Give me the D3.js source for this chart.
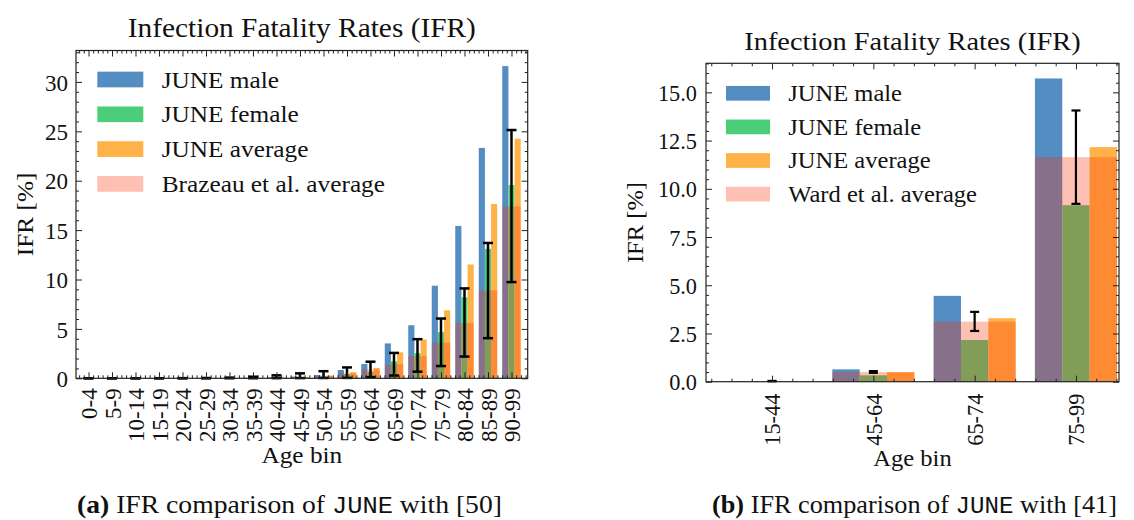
<!DOCTYPE html>
<html>
<head>
<meta charset="utf-8">
<script src="https://cdn.jsdelivr.net/npm/d3@7"></script>
<style>
  body { margin: 0; background: #fff; }
  svg { display: block; }
</style>
</head>
<body>
<svg id="fig" width="1134" height="520"></svg>
<script>
// ---- Panel (a): JUNE vs Brazeau et al., IFR in % by five-year age bin ----
const binsA = ["0-4","5-9","10-14","15-19","20-24","25-29","30-34","35-39","40-44","45-49",
               "50-54","55-59","60-64","65-69","70-74","75-79","80-84","85-89","90-99"];
const maleA    = [0.002,0.001,0.002,0.004,0.008,0.015,0.03,0.05,0.09,0.18,0.33,0.84,1.44,3.53,5.37,9.37,15.42,23.32,31.6];
const femaleA  = [0.001,0.001,0.001,0.002,0.004,0.007,0.013,0.025,0.045,0.09,0.17,0.42,0.65,1.72,2.55,4.67,8.2,13.1,19.56];
const averageA = [0.002,0.001,0.002,0.003,0.006,0.011,0.022,0.04,0.07,0.13,0.26,0.62,1.05,2.63,3.92,6.88,11.52,17.64,24.25];
const brazeauA     = [0.001,0.001,0.001,0.002,0.004,0.008,0.015,0.03,0.06,0.12,0.25,0.5,0.9,1.41,2.25,3.6,5.6,8.9,17.4];
const brazeauLowA  = [0,0,0,0,0.001,0.002,0.004,0.007,0.012,0.02,0.03,0.04,0.12,0.28,0.67,1.24,2.2,4.06,9.74];
const brazeauHighA = [0.003,0.003,0.005,0.008,0.015,0.03,0.07,0.16,0.3,0.5,0.72,1.1,1.68,2.57,3.96,6.05,9.1,13.7,25.13];
const legendA = ["JUNE male","JUNE female","JUNE average","Brazeau et al. average"];
const yTicksA = [0,5,10,15,20,25,30];

// ---- Panel (b): JUNE vs Ward et al., IFR in % by broad age band ----
const binsB = ["15-44","45-64","65-74","75-99"];
const maleB    = [0.02,0.64,4.45,15.72];
const femaleB  = [0.01,0.33,2.16,9.15];
const averageB = [0.015,0.49,3.29,12.16];
const wardB     = [0.03,0.5,3.11,11.64];
const wardLowB  = [0.02,0.46,2.63,9.22];
const wardHighB = [0.04,0.55,3.62,14.06];
const legendB = ["JUNE male","JUNE female","JUNE average","Ward et al. average"];
const yTicksB = [0,2.5,5,7.5,10,12.5,15];

const titleText = "Infection Fatality Rates (IFR)";

// ---- styling ----
const SERIF = "'Liberation Serif','Times New Roman',serif";
const MONO = "'Liberation Mono','DejaVu Sans Mono',monospace";
const COLORS = { male: "#538dc2", female: "#4ccd7a", average: "#ffb248", ref: "rgb(255,45,5)" };
const REF_OPACITY = 0.30;
const INK = "#111";
const STRETCH = 1.1;   // widens lettered labels toward Computer Modern proportions

const svg = d3.select("#fig");
svg.append("rect").attr("width", 1134).attr("height", 520).attr("fill", "#fff");

function drawPanel(p) {
  const x = d3.scaleLinear().domain(p.xDomain).range([p.left, p.right]);
  const y = d3.scaleLinear().domain([0, d3.max(p.male) * 1.05]).range([p.bottom, p.top]);
  const g = svg.append("g");
  const idx = d3.range(p.bins.length);
  const bw = x(p.barWidth) - x(0);

  // JUNE bars: male | female | average side by side around each bin
  const series = [
    { v: p.male, c: COLORS.male, k: -1 },
    { v: p.female, c: COLORS.female, k: 0 },
    { v: p.average, c: COLORS.average, k: 1 }
  ];
  series.forEach(s => {
    g.append("g").selectAll("rect").data(idx).join("rect")
      .attr("x", i => x(i + s.k * p.barWidth - p.barWidth / 2))
      .attr("width", bw)
      .attr("y", i => y(s.v[i]))
      .attr("height", i => y(0) - y(s.v[i]))
      .attr("fill", s.c);
  });

  // reference study: translucent bar across the whole group
  g.append("g").selectAll("rect").data(idx).join("rect")
    .attr("x", i => x(i - 1.5 * p.barWidth))
    .attr("width", 3 * bw)
    .attr("y", i => y(p.ref[i]))
    .attr("height", i => y(0) - y(p.ref[i]))
    .attr("fill", COLORS.ref)
    .attr("fill-opacity", REF_OPACITY);

  // reference confidence intervals
  const eg = g.append("g").attr("stroke", "#000").attr("stroke-width", p.errWidth);
  idx.forEach(i => {
    const cx = x(i), ylo = y(p.refLow[i]), yhi = y(p.refHigh[i]);
    eg.append("line").attr("x1", cx).attr("x2", cx).attr("y1", ylo).attr("y2", yhi);
    [ylo, yhi].forEach(yy => eg.append("line")
      .attr("x1", cx - p.cap).attr("x2", cx + p.cap).attr("y1", yy).attr("y2", yy));
  });

  // ---- axes: inward major + minor ticks on all four sides ----
  const fs = p.fontSize;
  const round = v => Math.round(v * 1000) / 1000;
  const xMinor = d3.range(Math.ceil(p.xDomain[0] / 0.2), Math.floor(p.xDomain[1] / 0.2) + 1)
    .map(k => round(k * 0.2)).filter(v => Math.abs(v - Math.round(v)) > 1e-6);
  const yMax = y.domain()[1];
  const yMinor = d3.range(0, Math.floor(yMax / p.yMinorStep) + 1)
    .map(k => round(k * p.yMinorStep)).filter(v => !p.yTicks.includes(v));

  function finish(sel) {
    sel.select(".domain").remove();
    sel.attr("font-family", SERIF).attr("font-size", fs);
    sel.selectAll("line").attr("stroke", "#222").attr("stroke-width", 1);
    sel.selectAll("text").attr("fill", INK).style("font-family", SERIF);
  }
  const blank = () => "";

  const gxb = g.append("g").attr("transform", `translate(0,${p.bottom})`)
    .call(d3.axisBottom(x).tickValues(idx).tickFormat(i => p.bins[i]).tickSizeInner(-6).tickSizeOuter(0));
  finish(gxb);
  gxb.selectAll("text")
    .attr("transform", "rotate(-90)")
    .attr("x", -p.xPad).attr("y", 0).attr("dy", "0.35em")
    .attr("text-anchor", "end");
  finish(g.append("g").attr("transform", `translate(0,${p.bottom})`)
    .call(d3.axisBottom(x).tickValues(xMinor).tickFormat(blank).tickSizeInner(-3).tickSizeOuter(0)));
  finish(g.append("g").attr("transform", `translate(0,${p.top})`)
    .call(d3.axisTop(x).tickValues(idx).tickFormat(blank).tickSizeInner(-6).tickSizeOuter(0)));
  finish(g.append("g").attr("transform", `translate(0,${p.top})`)
    .call(d3.axisTop(x).tickValues(xMinor).tickFormat(blank).tickSizeInner(-3).tickSizeOuter(0)));

  const gyl = g.append("g").attr("transform", `translate(${p.left},0)`)
    .call(d3.axisLeft(y).tickValues(p.yTicks).tickFormat(p.yFormat).tickSizeInner(-6).tickSizeOuter(0).tickPadding(p.yPad));
  finish(gyl);
  gyl.selectAll("text").attr("dy", "0.36em");
  finish(g.append("g").attr("transform", `translate(${p.left},0)`)
    .call(d3.axisLeft(y).tickValues(yMinor).tickFormat(blank).tickSizeInner(-3).tickSizeOuter(0)));
  finish(g.append("g").attr("transform", `translate(${p.right},0)`)
    .call(d3.axisRight(y).tickValues(p.yTicks).tickFormat(blank).tickSizeInner(-6).tickSizeOuter(0)));
  finish(g.append("g").attr("transform", `translate(${p.right},0)`)
    .call(d3.axisRight(y).tickValues(yMinor).tickFormat(blank).tickSizeInner(-3).tickSizeOuter(0)));

  // frame
  g.append("rect")
    .attr("x", p.left).attr("y", p.top)
    .attr("width", p.right - p.left).attr("height", p.bottom - p.top)
    .attr("fill", "none").attr("stroke", "#222").attr("stroke-width", 1.2);

  // title and axis labels
  const cxMid = (p.left + p.right) / 2;
  g.append("text").text(titleText)
    .attr("x", cxMid).attr("y", p.titleY).attr("text-anchor", "middle")
    .attr("font-family", SERIF).attr("font-size", p.titleSize).attr("fill", INK);
  g.append("text").text("Age bin")
    .attr("x", cxMid).attr("y", p.xLabelY).attr("text-anchor", "middle")
    .attr("font-family", SERIF).attr("font-size", fs).attr("fill", INK);
  g.append("text").text("IFR [%]")
    .attr("transform", `translate(${p.yLabelX},${(p.top + p.bottom) / 2}) rotate(-90)`)
    .attr("text-anchor", "middle")
    .attr("font-family", SERIF).attr("font-size", fs).attr("fill", INK);

  // legend
  const lg = g.append("g");
  const swatches = [
    { c: COLORS.male, o: 1 }, { c: COLORS.female, o: 1 },
    { c: COLORS.average, o: 1 }, { c: COLORS.ref, o: REF_OPACITY }
  ];
  p.legend.forEach((label, j) => {
    const cy = p.legTop + j * p.legStep;
    lg.append("rect")
      .attr("x", p.legX).attr("y", cy - p.legH / 2)
      .attr("width", p.legW).attr("height", p.legH)
      .attr("fill", swatches[j].c).attr("fill-opacity", swatches[j].o);
    lg.append("text").text(label)
      .attr("x", p.legTextX).attr("y", cy).attr("dy", "0.35em")
      .attr("font-family", SERIF).attr("font-size", fs).attr("fill", INK);
  });
}

drawPanel({
  bins: binsA, male: maleA, female: femaleA, average: averageA,
  ref: brazeauA, refLow: brazeauLowA, refHigh: brazeauHighA,
  legend: legendA, yTicks: yTicksA, yFormat: d3.format("d"), yMinorStep: 1,
  left: 76, right: 527.7, top: 50.5, bottom: 378.3,
  xDomain: [-0.532, 18.69], barWidth: 0.262,
  errWidth: 2.5, cap: 5, fontSize: 23, titleSize: 26.7,
  xPad: 10, yPad: 8, titleY: 37, xLabelY: 463, yLabelX: 33,
  legX: 97.3, legW: 46, legH: 15.7, legTop: 79.5, legStep: 34.8, legTextX: 161.7
});

drawPanel({
  bins: binsB, male: maleB, female: femaleB, average: averageB,
  ref: wardB, refLow: wardLowB, refHigh: wardHighB,
  legend: legendB, yTicks: yTicksB, yFormat: d3.format(".1f"), yMinorStep: 0.5,
  left: 706, right: 1119, top: 63.3, bottom: 381.7,
  xDomain: [-0.652, 3.425], barWidth: 0.27,
  errWidth: 2.2, cap: 4.5, fontSize: 22.3, titleSize: 25.8,
  xPad: 12, yPad: 9, titleY: 50, xLabelY: 466, yLabelX: 643,
  legX: 726, legW: 44, legH: 14.7, legTop: 93.3, legStep: 33.6, legTextX: 788.3
});

// sub-figure captions
function caption(letter, ref, cx, width) {
  const t = svg.append("text")
    .attr("x", cx).attr("y", 513).attr("text-anchor", "middle")
    .attr("font-family", SERIF).attr("font-size", 25).attr("fill", INK)
    .attr("data-fit", width);
  t.append("tspan").attr("font-weight", "bold").text(`(${letter})`);
  t.append("tspan").text(" IFR comparison of ");
  t.append("tspan").attr("font-family", MONO).attr("font-size", 23).text("JUNE");
  t.append("tspan").text(` with [${ref}]`);
}
caption("a", 50, 289.5, 425);
caption("b", 41, 914.5, 405);

// widen lettered labels toward the proportions of the original typeface;
// purely numeric tick labels already share its digit widths
svg.selectAll("text").each(function () {
  const s = this.textContent;
  if (!s.trim()) return;
  const fit = this.getAttribute("data-fit");
  if (!fit && !/[A-Za-z]/.test(s)) return;
  const L = this.getComputedTextLength();
  const target = fit ? +fit : L * STRETCH;
  this.setAttribute("textLength", target.toFixed(1));
  this.setAttribute("lengthAdjust", "spacingAndGlyphs");
});
</script>
</body>
</html>
